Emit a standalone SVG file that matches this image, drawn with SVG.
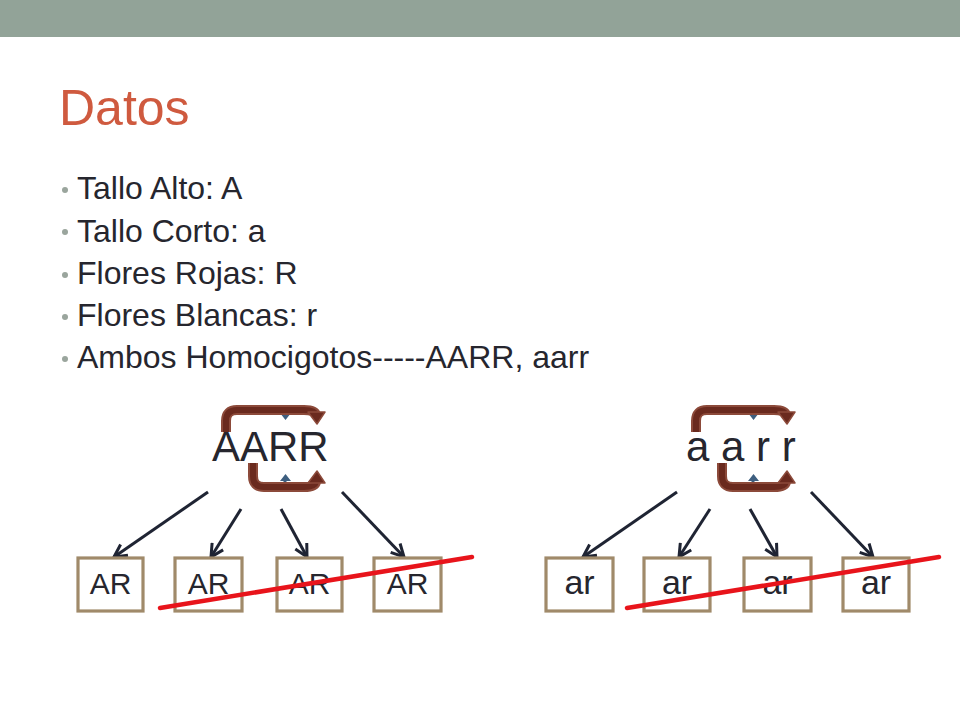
<svg xmlns="http://www.w3.org/2000/svg" width="960" height="720" viewBox="0 0 960 720">
<defs>
<style>
.t{font-family:"Liberation Sans",Arial,sans-serif;fill:#26262E}
.bul{font-size:32px}
.dot{fill:#9AA59D}
.box{fill:#fff;stroke:#A08A6A;stroke-width:3.2}
.bt{font-size:30px;text-anchor:middle}
.bl{font-size:34px;text-anchor:middle}
.con{stroke:#1F2433;stroke-width:3;fill:none;marker-end:url(#ah)}
.x{stroke:#E8141B;stroke-width:4.5;stroke-linecap:round}
.bo{stroke:#8C4A3A;stroke-width:10;fill:none;stroke-linejoin:round}
.bi{stroke:#6A2A1E;stroke-width:6;fill:none;stroke-linejoin:round}
.bh{fill:#6A2A1E;stroke:#8C4A3A;stroke-width:1.5;stroke-linejoin:round}
.blue{fill:#3E5F80}
</style>
<marker id="ah" viewBox="0 0 16 16" refX="14" refY="8" markerWidth="16" markerHeight="16" markerUnits="userSpaceOnUse" orient="auto">
<path d="M1.5,1.5 L14,8 L1.5,14.5" fill="none" stroke="#1F2433" stroke-width="3" stroke-linejoin="miter"/>
</marker>
</defs>
<rect x="0" y="0" width="960" height="720" fill="#fff"/>
<rect x="0" y="0" width="960" height="37" fill="#92A398"/>
<text x="59" y="125" style="font-family:'Liberation Sans',Arial,sans-serif;font-size:50px;fill:#CF5A3F">Datos</text>
<g id="bullets">
<circle class="dot" cx="65" cy="190" r="3"/>
<text class="t bul" x="77" y="199">Tallo Alto: A</text>
<circle class="dot" cx="65" cy="232" r="3"/>
<text class="t bul" x="77" y="241.5">Tallo Corto: a</text>
<circle class="dot" cx="65" cy="275" r="3"/>
<text class="t bul" x="77" y="284">Flores Rojas: R</text>
<circle class="dot" cx="65" cy="317" r="3"/>
<text class="t bul" x="77" y="326">Flores Blancas: r</text>
<circle class="dot" cx="65" cy="359" r="3"/>
<text class="t bul" x="77" y="368">Ambos Homocigotos-----AARR, aarr</text>
</g>
<g id="parent-AARR">
<path class="blue" d="M283.5,406 h3 v7 h4.5 l-5.5,7 l-5.5,-7 h3.5z"/>
<path class="blue" d="M283.5,487 h3 v-6 h4.5 l-5.5,-7 l-5.5,7 h3.5z"/>
<text class="t" x="212" y="461" style="font-size:42px">AARR</text>
<path class="bo" d="M226,432 V421 Q226,410 237,410 H304 Q315,410 316,415"/>
<path class="bi" d="M226,432 V421 Q226,410 237,410 H304 Q315,410 316,415"/>
<path class="bh" d="M308,412 L325,412 L317,424 Z"/>
<path class="bo" d="M253,463 V476 Q253,487 264,487 H304 Q315,487 316,482"/>
<path class="bi" d="M253,463 V476 Q253,487 264,487 H304 Q315,487 316,482"/>
<path class="bh" d="M308,483 L325,483 L317,471 Z"/>
</g>
<g id="parent-aarr">
<path class="blue" d="M751.5,406 h3 v7 h4.5 l-5.5,7 l-5.5,-7 h3.5z"/>
<path class="blue" d="M751.5,487 h3 v-6 h4.5 l-5.5,-7 l-5.5,7 h3.5z"/>
<text class="t" x="686" y="461" style="font-size:42px">a a r r</text>
<path class="bo" d="M696,432 V421 Q696,410 707,410 H774 Q785,410 786,415"/>
<path class="bi" d="M696,432 V421 Q696,410 707,410 H774 Q785,410 786,415"/>
<path class="bh" d="M778,412 L795,412 L787,424 Z"/>
<path class="bo" d="M722,463 V476 Q722,487 733,487 H774 Q785,487 786,482"/>
<path class="bi" d="M722,463 V476 Q722,487 733,487 H774 Q785,487 786,482"/>
<path class="bh" d="M778,483 L795,483 L787,471 Z"/>
</g>
<g id="connectors">
<line class="con" x1="208" y1="492" x2="114" y2="557"/>
<line class="con" x1="241" y1="509" x2="211" y2="557"/>
<line class="con" x1="281" y1="509" x2="307" y2="557"/>
<line class="con" x1="342" y1="492" x2="404" y2="557"/>
<line class="con" x1="677" y1="492" x2="583" y2="557"/>
<line class="con" x1="710" y1="509" x2="679" y2="557"/>
<line class="con" x1="750" y1="509" x2="777" y2="557"/>
<line class="con" x1="811" y1="492" x2="873" y2="557"/>
</g>
<g id="box-AR-1"><rect class="box" x="78" y="558" width="65" height="53"/><text class="t bt" x="110.5" y="594">AR</text></g>
<g id="box-AR-2"><rect class="box" x="175" y="558" width="67" height="53"/><text class="t bt" x="208.5" y="594">AR</text></g>
<g id="box-AR-3"><rect class="box" x="277" y="558" width="65" height="53"/><text class="t bt" x="309.5" y="594">AR</text></g>
<g id="box-AR-4"><rect class="box" x="374" y="558" width="67" height="53"/><text class="t bt" x="407.5" y="594">AR</text></g>
<g id="box-ar-1"><rect class="box" x="546" y="558" width="67" height="53"/><text class="t bl" x="579.5" y="594">ar</text></g>
<g id="box-ar-2"><rect class="box" x="644" y="558" width="66" height="53"/><text class="t bl" x="677" y="594">ar</text></g>
<g id="box-ar-3"><rect class="box" x="744" y="558" width="67" height="53"/><text class="t bl" x="777.5" y="594">ar</text></g>
<g id="box-ar-4"><rect class="box" x="843" y="558" width="66" height="53"/><text class="t bl" x="876" y="594">ar</text></g>
<g id="crossouts">
<line class="x" x1="160" y1="608" x2="472" y2="557"/>
<line class="x" x1="627" y1="608" x2="939" y2="557"/>
</g>
</svg>
